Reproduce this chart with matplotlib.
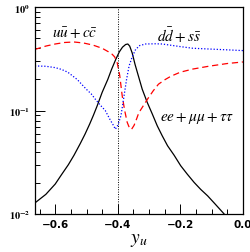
import numpy as np
import matplotlib
matplotlib.use('Agg')
import matplotlib.pyplot as plt
from matplotlib.ticker import MultipleLocator, LogLocator, NullFormatter

# ee + mumu + tautau (black solid)
x_lep = [-0.665, -0.63, -0.6, -0.58, -0.558, -0.54, -0.52, -0.505, -0.49, -0.478,
         -0.466, -0.45, -0.432, -0.42, -0.406, -0.395, -0.385, -0.375, -0.368, -0.362,
         -0.354, -0.345, -0.335, -0.322, -0.306, -0.29, -0.274, -0.258, -0.241, -0.22,
         -0.199, -0.178, -0.156, -0.135, -0.113, -0.09, -0.065, -0.06]
y_lep = [0.0128, 0.0155, 0.0195, 0.024, 0.030, 0.037, 0.048, 0.059, 0.074, 0.09,
         0.111, 0.15, 0.20, 0.25, 0.315, 0.37, 0.41, 0.435, 0.44, 0.42,
         0.36, 0.28, 0.22, 0.161, 0.12, 0.093, 0.0713, 0.057, 0.0457, 0.037,
         0.0293, 0.0243, 0.0202, 0.0173, 0.0150, 0.0126, 0.0104, 0.0100]

# u ubar + c cbar (red dashed)
x_up = [-0.665, -0.63, -0.6, -0.57, -0.54, -0.51, -0.48, -0.45, -0.43, -0.418,
        -0.41, -0.402, -0.394, -0.386, -0.378, -0.37, -0.362, -0.356, -0.348, -0.34,
        -0.333, -0.318, -0.305, -0.287, -0.27, -0.248, -0.23, -0.2, -0.16, -0.11,
        -0.05, 0.0]
y_up = [0.39, 0.42, 0.44, 0.455, 0.46, 0.45, 0.43, 0.40, 0.37, 0.35,
        0.33, 0.29, 0.22, 0.139, 0.10, 0.077, 0.067, 0.066, 0.072, 0.083,
        0.095, 0.112, 0.129, 0.155, 0.18, 0.20, 0.215, 0.235, 0.252, 0.268,
        0.285, 0.295]

# d dbar + s sbar (blue dotted)
x_down = [-0.665, -0.63, -0.6, -0.58, -0.56, -0.53, -0.5, -0.485, -0.472, -0.456,
          -0.44, -0.425, -0.413, -0.408, -0.4, -0.39, -0.38, -0.372, -0.364, -0.354,
          -0.343, -0.33, -0.311, -0.28, -0.258, -0.2, -0.16, -0.08, 0.0]
y_down = [0.27, 0.268, 0.26, 0.25, 0.235, 0.2, 0.16, 0.145, 0.129, 0.113,
          0.10, 0.082, 0.071, 0.066, 0.072, 0.089, 0.139, 0.2, 0.27, 0.33,
          0.39, 0.425, 0.44, 0.442, 0.44, 0.415, 0.40, 0.39, 0.38]

x_line = -0.4

plt.rcParams['mathtext.fontset'] = 'stix'

fig = plt.figure(figsize=(2.51, 2.53), dpi=100)
ax = fig.add_axes([0.139, 0.150, 0.829, 0.818])

ax.plot(x_lep, y_lep, color='black', lw=0.9)
ax.plot(x_up, y_up, color='#ff0000', lw=0.9, dashes=(5, 3))
ax.plot(x_down, y_down, color='#0000ff', lw=0.9, dashes=(1, 1.5))
ax.axvline(x_line, color='black', lw=0.7, ls=(0, (1, 1.5)))

ax.set_yscale('log')
ax.set_xlim(-0.665, 0.0)
ax.set_ylim(1e-2, 1e0)

ax.xaxis.set_minor_locator(MultipleLocator(0.05))
ax.yaxis.set_minor_locator(LogLocator(base=10, subs=np.arange(2, 10)))
ax.yaxis.set_minor_formatter(NullFormatter())
ax.tick_params(which='both', direction='in', top=False, right=False,
               labelsize=7.5, width=0.7)
ax.tick_params(which='major', length=7)
ax.tick_params(which='minor', length=3.5)
ax.set_xticks([-0.6, -0.4, -0.2, 0.0])
ax.set_xticklabels(['\u22120.6', '\u22120.4', '\u22120.2', '0.0'], fontweight='bold')
ax.set_yticks([1e-2, 1e-1, 1e0])
ax.set_yticklabels([r'$\mathbf{10^{-2}}$', r'$\mathbf{10^{-1}}$', r'$\mathbf{10^{0}}$'])
for s in ax.spines.values():
    s.set_linewidth(0.9)

ax.text(-0.539, 0.573, r'$u\bar{u}+c\bar{c}$', fontsize=11, ha='center', va='center')
ax.text(-0.205, 0.55, r'$d\bar{d}+s\bar{s}$', fontsize=11, ha='center', va='center')
ax.text(-0.147, 0.0865, r'$ee+\mu\mu+\tau\tau$', fontsize=11, ha='center', va='center')
ax.set_xlabel(r'$y_u$', fontsize=14, labelpad=0)

fig.savefig('out.png', dpi=100)
